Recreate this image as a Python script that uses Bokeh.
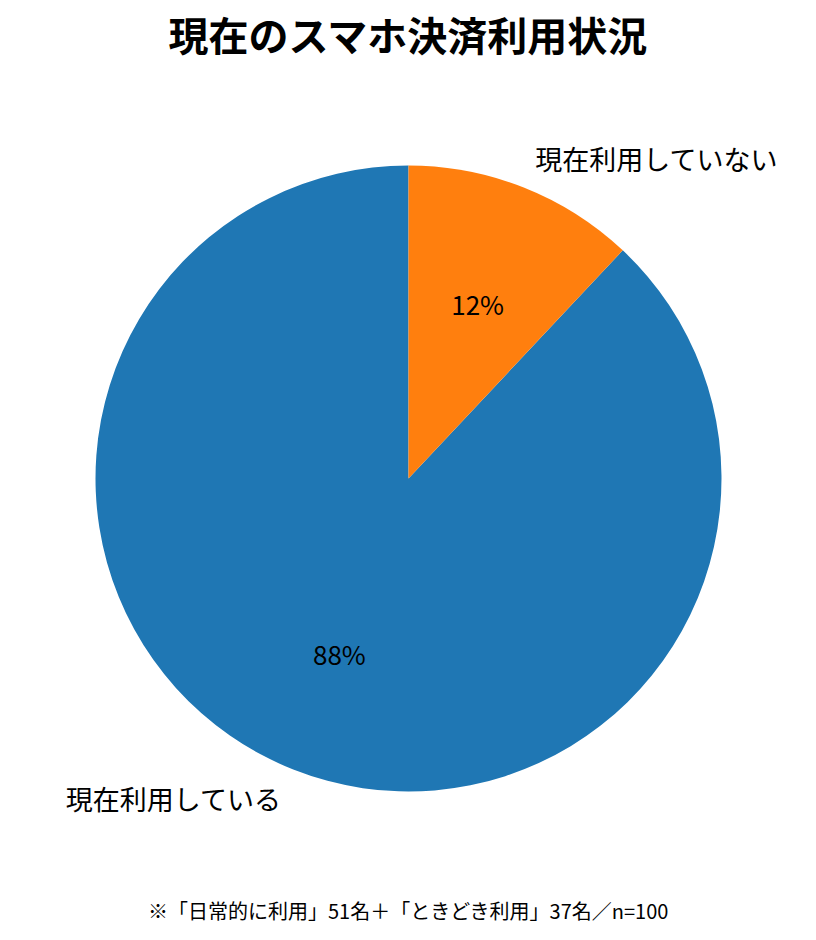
import numpy as np
from bokeh.plotting import figure
from bokeh.models import ColumnDataSource, Range1d
from bokeh.embed import file_html
from bokeh.resources import INLINE
from bokeh.core.properties import value

# ---- data ----
chart_title = "現在のスマホ決済利用状況"
labels = ["現在利用している", "現在利用していない"]
values = [88, 12]
colors = ["#1f77b4", "#ff7f0e"]
footnote = "※「日常的に利用」51名＋「ときどき利用」37名／n=100"

# ---- layout ----
W, H = 800, 932
R_PX = 313.0
CX, CY = 408.0, 478.0   # pie centre, px from top-left of canvas
FONT = "Noto Sans CJK JP"

s = R_PX
p = figure(width=W, height=H, output_backend="svg", toolbar_location=None,
           x_range=Range1d(-CX / s, (W - CX) / s),
           y_range=Range1d(-(H - CY) / s, CY / s),
           min_border=0, outline_line_color=None)
p.axis.visible = False
p.grid.visible = False
p.background_fill_color = "white"
p.border_fill_color = "white"

vals = np.array(values, dtype=float)
frac = vals / vals.sum()
start = np.pi / 2 + 2 * np.pi * np.concatenate([[0], np.cumsum(frac)[:-1]])
end = start + 2 * np.pi * frac
mid = (start + end) / 2

src = ColumnDataSource(dict(start=start, end=end, color=colors, label=labels))
p.wedge(x=0, y=0, radius=1.0, start_angle="start", end_angle="end",
        direction="anticlock", fill_color="color", line_color=None, source=src)

# outer labels
lx = 1.1 * np.cos(mid)
ly = 1.1 * np.sin(mid)
lal = ["left" if c > 0 else "right" for c in np.cos(mid)]
p.text(x=lx, y=ly, text=labels, text_align=lal, text_baseline="middle",
       text_font=value(FONT), text_font_size="27px", text_color="black")

# percentages
px_ = 0.6 * np.cos(mid)
py_ = 0.6 * np.sin(mid)
pct = [f"{f*100:.0f}%" for f in frac]
p.text(x=px_, y=py_, text=pct, text_align="center", text_baseline="middle",
       text_font=value(FONT), text_font_size="26px", text_color="black")

# title
p.text(x=[0], y=[(CY - 33) / s], text=[chart_title], text_align="center",
       text_baseline="middle", text_font=value(FONT), text_font_size="40px",
       text_font_style="bold", text_color="black")

# footnote
p.text(x=[0], y=[(CY - 910) / s], text=[footnote], text_align="center",
       text_baseline="middle", text_font=value(FONT), text_font_size="20px",
       text_color="black")

open("out.html", "w").write(file_html(p, INLINE))
